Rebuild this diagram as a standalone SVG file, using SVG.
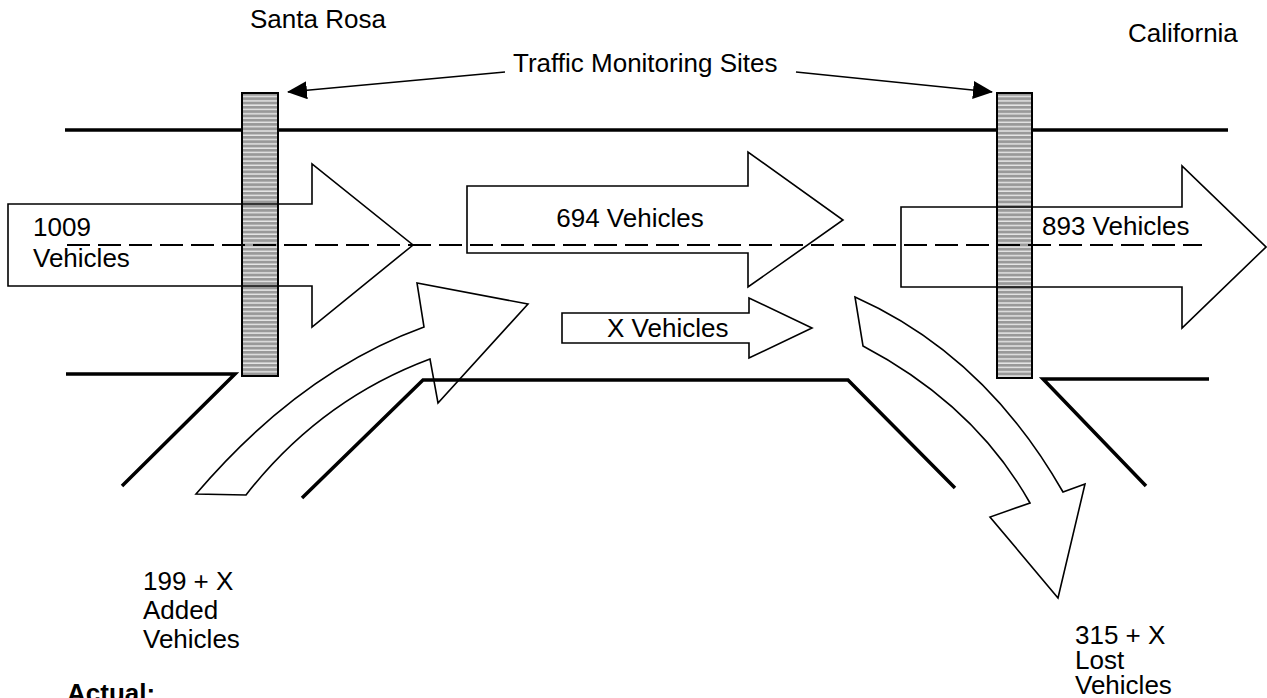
<svg xmlns="http://www.w3.org/2000/svg" width="1267" height="698" viewBox="0 0 1267 698">
<style>
.road{fill:none;stroke:#000;stroke-width:3.5;stroke-linejoin:miter}
.arr{fill:none;stroke:#000;stroke-width:1.6;stroke-linejoin:miter}
.bar{fill:url(#hatch);stroke:#000;stroke-width:2}
.t{font-family:"Liberation Sans",Arial,sans-serif;font-size:26px;fill:#000}
.lead{fill:none;stroke:#000;stroke-width:1.6}
</style>
<defs>
<pattern id="hatch" x="0" y="93" width="4" height="4.3" patternUnits="userSpaceOnUse">
<rect width="4" height="4.3" fill="#999"/>
<rect y="3" width="4" height="1.1" fill="#fff"/>
</pattern>
<marker id="ah" viewBox="0 0 20 18" refX="19" refY="9" markerWidth="20" markerHeight="18" markerUnits="userSpaceOnUse" orient="auto">
<path d="M0,0 L20,9 L0,18 Z" fill="#000"/>
</marker>
</defs>
<rect width="1267" height="698" fill="#fff"/>
<g id="road">
<line class="road" x1="65" y1="130" x2="1228" y2="130"/>
<polyline class="road" points="66,374 235,374 122,486"/>
<polyline class="road" points="302,498 423,380 848,380 955,488"/>
<polyline class="road" points="1209,379 1043,379 1146,486"/>
</g>
<g id="site-santa-rosa">
<rect class="bar" x="242" y="93" width="36" height="283"/>
</g>
<g id="site-california">
<rect class="bar" x="997" y="93" width="35" height="285"/>
</g>
<g id="flow-1009">
<polygon class="arr" points="8,204 312,204 312,164 413,245 312,327 312,286 8,286"/>
<text class="t" x="33" y="236">1009</text>
<text class="t" x="33" y="267">Vehicles</text>
</g>
<g id="flow-694">
<polygon class="arr" points="467,186 748,186 748,152 843,220 748,287 748,253 467,253"/>
<text class="t" x="630" y="227" text-anchor="middle">694 Vehicles</text>
</g>
<g id="flow-x">
<polygon class="arr" points="562,313 749,313 749,298 812,328 749,358 749,343 562,343"/>
<text class="t" x="607" y="337">X Vehicles</text>
</g>
<g id="flow-893">
<polygon class="arr" points="901,207 1182,207 1182,166 1266,247 1182,328 1182,287 901,287"/>
<text class="t" x="1042" y="235">893 Vehicles</text>
</g>
<g id="flow-added">
<path class="arr" d="M196,494 Q300,372 424,327 L417,283 L528,304 L438,403 L430,359 Q320,400 246,495 Z"/>
<text class="t" x="143" y="590">199 + X</text>
<text class="t" x="143" y="619">Added</text>
<text class="t" x="143" y="648">Vehicles</text>
</g>
<g id="flow-lost">
<path class="arr" d="M855,297 Q985,355 1063,492 L1085,484 L1058,598 L990,517 L1030,503 Q975,405 863,346 Z"/>
<text class="t" x="1075" y="644">315 + X</text>
<text class="t" x="1075" y="669">Lost</text>
<text class="t" x="1075" y="694">Vehicles</text>
</g>
<g id="centerline">
<line x1="67" y1="245" x2="1202" y2="245" stroke="#000" stroke-width="2" stroke-dasharray="23,8"/>
</g>
<g id="labels">
<text class="t" x="250" y="28">Santa Rosa</text>
<text class="t" x="1128" y="42">California</text>
<text class="t" x="513" y="72">Traffic Monitoring Sites</text>
<text class="t" x="67" y="702" font-weight="bold">Actual:</text>
</g>
<g id="connectors">
<line class="lead" x1="505" y1="72" x2="288" y2="92" marker-end="url(#ah)"/>
<line class="lead" x1="796" y1="72" x2="992" y2="92" marker-end="url(#ah)"/>
</g>
</svg>
